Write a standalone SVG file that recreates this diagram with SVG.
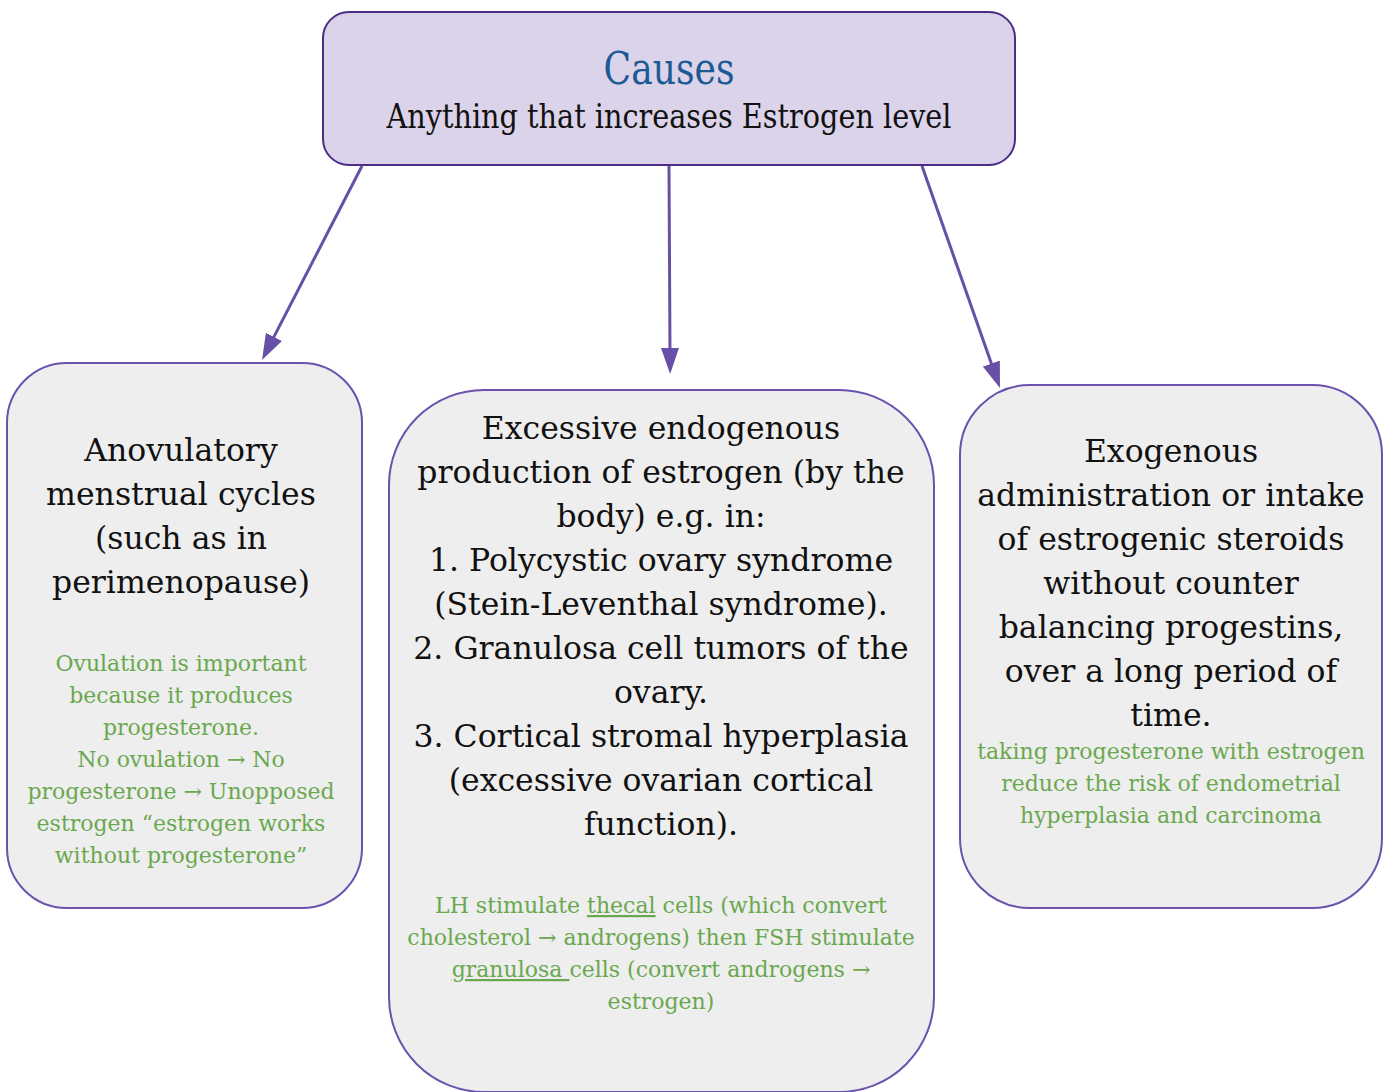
<svg xmlns="http://www.w3.org/2000/svg" width="1387" height="1092" viewBox="0 0 1387 1092">
<defs>
<style>
.box{fill:#eeeeee;stroke:#6a52ad;stroke-width:2}
.top{fill:#dbd3e9;stroke:#4b2d87;stroke-width:2}
.b{font-family:"DejaVu Serif","Liberation Serif",serif;font-size:31.5px;fill:#111;text-anchor:middle}
.g{font-family:"DejaVu Serif","Liberation Serif",serif;font-size:22px;fill:#6aa84f;text-anchor:middle}
.conn{stroke:#6750a6;stroke-width:3;fill:none;marker-end:url(#ah)}
.u{text-decoration:underline}
</style>
<marker id="ah" markerUnits="userSpaceOnUse" markerWidth="26" markerHeight="18" refX="4" refY="9" orient="auto">
<path d="M0,0 L26,9 L0,18 z" fill="#6750a6"/>
</marker>
</defs>
<rect width="1387" height="1092" fill="#ffffff"/>
<g id="connectors">
<line class="conn" x1="362" y1="166" x2="272.1" y2="340.4"/>
<line class="conn" x1="669" y1="166" x2="670" y2="352"/>
<line class="conn" x1="922" y1="166" x2="992.7" y2="367.3"/>
</g>
<g id="causes">
<rect class="top" x="323" y="12" width="692" height="153" rx="26"/>
<text x="669" y="84" font-family="DejaVu Serif, Liberation Serif, serif" font-size="44" fill="#1c5a96" text-anchor="middle" textLength="131" lengthAdjust="spacingAndGlyphs">Causes</text>
<text x="669" y="128" font-family="DejaVu Serif, Liberation Serif, serif" font-size="33" fill="#111" text-anchor="middle" textLength="565" lengthAdjust="spacingAndGlyphs">Anything that increases Estrogen level</text>
</g>
<g id="anovulatory">
<rect class="box" x="7" y="363" width="355" height="545" rx="60"/>
<text class="b" x="181" y="461">Anovulatory</text>
<text class="b" x="181" y="505">menstrual cycles</text>
<text class="b" x="181" y="549">(such as in</text>
<text class="b" x="181" y="593">perimenopause)</text>
<text class="g" x="181" y="671">Ovulation is important</text>
<text class="g" x="181" y="703">because it produces</text>
<text class="g" x="181" y="735">progesterone.</text>
<text class="g" x="181" y="767">No ovulation → No</text>
<text class="g" x="181" y="799">progesterone → Unopposed</text>
<text class="g" x="181" y="831">estrogen “estrogen works</text>
<text class="g" x="181" y="863">without progesterone”</text>
</g>
<g id="endogenous">
<rect class="box" x="389" y="390" width="545" height="702" rx="95"/>
<text class="b" x="661" y="439">Excessive endogenous</text>
<text class="b" x="661" y="483">production of estrogen (by the</text>
<text class="b" x="661" y="527">body) e.g. in:</text>
<text class="b" x="661" y="571">1. Polycystic ovary syndrome</text>
<text class="b" x="661" y="615">(Stein-Leventhal syndrome).</text>
<text class="b" x="661" y="659">2. Granulosa cell tumors of the</text>
<text class="b" x="661" y="703">ovary.</text>
<text class="b" x="661" y="747">3. Cortical stromal hyperplasia</text>
<text class="b" x="661" y="791">(excessive ovarian cortical</text>
<text class="b" x="661" y="835">function).</text>
<text class="g" x="661" y="913">LH stimulate <tspan class="u">thecal</tspan> cells (which convert</text>
<text class="g" x="661" y="945">cholesterol → androgens) then FSH stimulate</text>
<text class="g" x="661" y="977" xml:space="preserve"><tspan class="u">granulosa </tspan>cells (convert androgens →</text>
<text class="g" x="661" y="1009">estrogen)</text>
</g>
<g id="exogenous">
<rect class="box" x="960" y="385" width="422" height="523" rx="70"/>
<text class="b" x="1171" y="462">Exogenous</text>
<text class="b" x="1171" y="506">administration or intake</text>
<text class="b" x="1171" y="550">of estrogenic steroids</text>
<text class="b" x="1171" y="594">without counter</text>
<text class="b" x="1171" y="638">balancing progestins,</text>
<text class="b" x="1171" y="682">over a long period of</text>
<text class="b" x="1171" y="726">time.</text>
<text class="g" x="1171" y="759">taking progesterone with estrogen</text>
<text class="g" x="1171" y="791">reduce the risk of endometrial</text>
<text class="g" x="1171" y="823">hyperplasia and carcinoma</text>
</g>
</svg>
